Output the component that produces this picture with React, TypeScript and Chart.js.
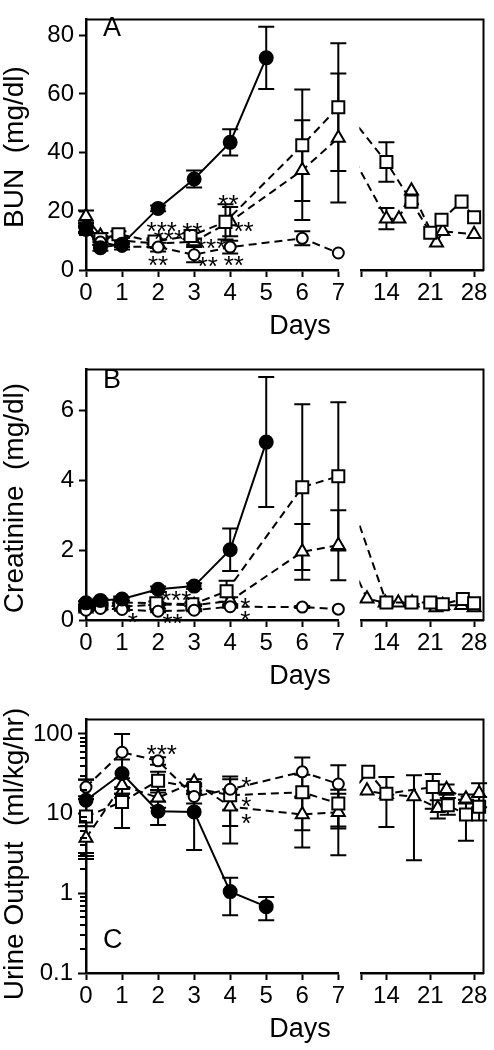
import React, { useEffect, useRef } from 'react';
import { Chart, registerables } from 'chart.js';

Chart.register(...registerables);

const FONT = '"Liberation Sans", Arial, Helvetica, sans-serif';

// ---------------- Panel A : BUN (mg/dl) ----------------
const A_FILLED_X = [0, 0.4, 1, 2, 3, 4, 5];
const A_FILLED_Y = [14.3, 7.6, 8.8, 21.0, 31.0, 43.5, 72.3];
const A_FILLED_E = [1.5, 1.0, 1.0, 1.0, 2.9, 4.5, 10.6];
const A_CIRCLE_X = [0, 0.4, 1, 2, 3, 4, 6, 7];
const A_CIRCLE_Y = [13.5, 9.5, 8.0, 7.8, 5.2, 7.8, 10.8, 5.8];
const A_CIRCLE_E = [1, 1, 1, 1.5, 2.6, 2.2, 2.4, 0];
const A_SQUARE_X = [0, 0.4, 0.9, 1.9, 2.9, 3.87, 6, 7, 14, 18, 21, 22.8, 26, 28];
const A_SQUARE_Y = [14, 10.5, 12.2, 9.7, 11.6, 16.4, 42.5, 55.5, 36.8, 23.3, 12.7, 17.1, 23.3, 18];
const A_SQUARE_E = [1, 1, 1, 1, 1, 6, 19, 21.8, 6.7, 0, 0, 0, 0, 0];
const A_TRIANGLE_X = [0, 0.4, 1, 2, 3, 4, 6, 7, 14, 16, 18, 22, 23, 28];
const A_TRIANGLE_Y = [18.3, 11.6, 10.0, 9.0, 9.7, 16.5, 34, 45, 17.5, 17.5, 27, 9.3, 13.2, 12.2];
const A_TRIANGLE_E = [2, 1, 1, 1.5, 1, 5, 17, 22, 3.6, 0, 0, 0, 0, 0];
const A_STARS_X = [2.1, 2.3, 2.0, 2.95, 3.47, 3.38, 3.95, 4.37, 4.1];
const A_STARS_Y = [15.2, 12.7, 3.8, 15, 9.5, 3.5, 24.5, 15.3, 3.7];
const A_STARS_T = ['***', '***', '**', '**', '***', '**', '**', '**', '**'];
const A_Y_TICKS = [0, 20, 40, 60, 80];

// ---------------- Panel B : Creatinine (mg/dl) ----------------
const B_FILLED_X = [0, 0.4, 1, 2, 3, 4, 5];
const B_FILLED_Y = [0.49, 0.56, 0.6, 0.88, 0.97, 2.01, 5.09];
const B_FILLED_E = [0.05, 0.05, 0.05, 0.08, 0.08, 0.61, 1.86];
const B_CIRCLE_X = [0, 0.4, 1, 2, 3, 4, 6, 7];
const B_CIRCLE_Y = [0.28, 0.33, 0.3, 0.25, 0.28, 0.38, 0.37, 0.31];
const B_CIRCLE_E = [0.03, 0.03, 0.03, 0.03, 0.03, 0.03, 0.03, 0];
const B_SQUARE_X = [0, 0.4, 0.95, 1.95, 2.95, 3.9, 6, 7, 14, 18, 21, 23, 26.2, 28];
const B_SQUARE_Y = [0.4, 0.45, 0.5, 0.48, 0.45, 0.82, 3.8, 4.11, 0.5, 0.5, 0.5, 0.45, 0.6, 0.48];
const B_SQUARE_E = [0.03, 0.03, 0.05, 0.05, 0.05, 0.3, 2.37, 2.12, 0.03, 0, 0, 0, 0, 0];
const B_TRIANGLE_X = [0, 0.4, 1, 2, 3, 4, 6, 7, 10.9, 13.8, 15.9, 18.1, 21.9, 23, 26, 28];
const B_TRIANGLE_Y = [0.32, 0.42, 0.38, 0.45, 0.42, 0.55, 1.95, 2.14, 0.61, 0.49, 0.49, 0.49, 0.36, 0.42, 0.42, 0.36];
const B_TRIANGLE_E = [0.03, 0.03, 0.03, 0.03, 0.03, 0.1, 0.8, 1.0, 0, 0, 0, 0, 0, 0, 0, 0];
const B_STARS_X = [1.3, 2.5, 2.4, 4.42, 4.42];
const B_STARS_Y = [0.13, 0.74, 0.1, 0.54, 0.16];
const B_STARS_T = ['*', '***', '**', '*', '*'];
const B_Y_TICKS = [0, 2, 4, 6];

// ---------------- Panel C : Urine Output (ml/kg/hr) ----------------
const C_FILLED_X = [0, 1, 2, 3, 4, 5];
const C_FILLED_Y = [14.7, 31.8, 10.7, 10.5, 1.05, 0.68];
const C_FILLED_E = [12, 16, 3.5, 7, 0.52, 0.22];
const C_CIRCLE_X = [0, 1, 2, 3, 4, 6, 7];
const C_CIRCLE_Y = [21.5, 58.8, 45.9, 16.4, 20.2, 33.4, 23.5];
const C_CIRCLE_E = [5, 41, 5, 3, 9, 17, 17];
const C_SQUARE_X = [0, 1, 2, 3, 4, 6, 7, 11.1, 14, 21.4, 23.8, 26.7, 28.8];
const C_SQUARE_Y = [9.2, 14, 25.9, 21, 17, 18.5, 13.4, 33.4, 17.8, 21.5, 12.7, 9.75, 12.2];
const C_SQUARE_E = [6, 7.4, 7.5, 3, 10, 12.3, 6.5, 0, 11, 10, 3, 5.2, 4];
const C_TRIANGLE_X = [0, 1, 2, 3, 4, 6, 7, 10.9, 14, 18.4, 22.2, 23.6, 26.7, 28.8];
const C_TRIANGLE_Y = [4.93, 22.7, 15.8, 25, 12.2, 9.75, 10.4, 19.3, 17.5, 16.4, 11.7, 20.2, 15.4, 18];
const C_TRIANGLE_E = [2, 5, 4, 2, 8, 6, 7.4, 0, 0, 13.8, 3, 3, 2, 6];
const C_STARS_X = [2.1, 4.45, 4.45, 4.45];
const C_STARS_Y = [66, 26.6, 14.7, 9.0];
const C_STARS_T = ['***', '*', '*', '*'];
const C_Y_LABELS = [0.1, 1, 10, 100];
const C_Y_MINOR_STEPS = [2, 3, 4, 5, 6, 7, 8, 9];

// ---------------- shared x axis ----------------
const X1_MIN = 0;
const X1_MAX = 7;
const X2_MIN = 10;
const X2_MAX = 29.5;
const X2_TICKS = [14, 21, 28];

type Kind = 'filled' | 'circle' | 'square' | 'triangle';
type Series = { kind: Kind; x: number[]; y: number[]; e: number[] };

const STYLE: Record<Kind, { pointStyle: string; r: number; bg: string; dash: number[] }> = {
  filled: { pointStyle: 'circle', r: 6.5, bg: '#000', dash: [] },
  circle: { pointStyle: 'circle', r: 5.5, bg: '#fff', dash: [8, 5] },
  square: { pointStyle: 'rect', r: 8.5, bg: '#fff', dash: [8, 5] },
  triangle: { pointStyle: 'triangle', r: 7.5, bg: '#fff', dash: [8, 5] },
};

type PanelCfg = {
  series: Series[];
  starsX: number[];
  starsY: number[];
  starsT: string[];
  log: boolean;
  yMin: number;
  yMax: number;
  yTicks: number[];
  yTitle: string;
  titleY: number;
  letter: string;
  letterY: number;
  padTop: number;
  axisH: number;
};

const PANELS: PanelCfg[] = [
  {
    series: [
      { kind: 'filled', x: A_FILLED_X, y: A_FILLED_Y, e: A_FILLED_E },
      { kind: 'circle', x: A_CIRCLE_X, y: A_CIRCLE_Y, e: A_CIRCLE_E },
      { kind: 'square', x: A_SQUARE_X, y: A_SQUARE_Y, e: A_SQUARE_E },
      { kind: 'triangle', x: A_TRIANGLE_X, y: A_TRIANGLE_Y, e: A_TRIANGLE_E },
    ],
    starsX: A_STARS_X, starsY: A_STARS_Y, starsT: A_STARS_T,
    log: false, yMin: 0, yMax: 85.4, yTicks: A_Y_TICKS,
    yTitle: 'BUN  (mg/dl)', titleY: 147, letter: 'A', letterY: 36, padTop: 1, axisH: 80,
  },
  {
    series: [
      { kind: 'filled', x: B_FILLED_X, y: B_FILLED_Y, e: B_FILLED_E },
      { kind: 'circle', x: B_CIRCLE_X, y: B_CIRCLE_Y, e: B_CIRCLE_E },
      { kind: 'square', x: B_SQUARE_X, y: B_SQUARE_Y, e: B_SQUARE_E },
      { kind: 'triangle', x: B_TRIANGLE_X, y: B_TRIANGLE_Y, e: B_TRIANGLE_E },
    ],
    starsX: B_STARS_X, starsY: B_STARS_Y, starsT: B_STARS_T,
    log: false, yMin: 0, yMax: 7.17, yTicks: B_Y_TICKS,
    yTitle: 'Creatinine  (mg/dl)', titleY: 148, letter: 'B', letterY: 38, padTop: 3, axisH: 80,
  },
  {
    series: [
      { kind: 'filled', x: C_FILLED_X, y: C_FILLED_Y, e: C_FILLED_E },
      { kind: 'circle', x: C_CIRCLE_X, y: C_CIRCLE_Y, e: C_CIRCLE_E },
      { kind: 'square', x: C_SQUARE_X, y: C_SQUARE_Y, e: C_SQUARE_E },
      { kind: 'triangle', x: C_TRIANGLE_X, y: C_TRIANGLE_Y, e: C_TRIANGLE_E },
    ],
    starsX: C_STARS_X, starsY: C_STARS_Y, starsT: C_STARS_T,
    log: true, yMin: 0.1, yMax: 152, yTicks: C_Y_LABELS,
    yTitle: 'Urine Output  (ml/kg/hr)', titleY: 154, letter: 'C', letterY: 248, padTop: 4, axisH: 77,
  },
];

const CAP = 8;

function buildDatasets(series: Series[]) {
  const out: any[] = [];
  series.forEach((s) => {
    const st = STYLE[s.kind];
    const pts = s.x.map((x, i) => ({ x, y: s.y[i], e: s.e[i] }));
    const seg1 = pts.filter((p) => p.x <= X1_MAX);
    const later = pts.filter((p) => p.x > X1_MAX);
    const common = {
      borderColor: '#000',
      borderWidth: 2,
      borderDash: st.dash,
      pointStyle: st.pointStyle,
      pointRadius: st.r,
      pointHoverRadius: st.r,
      pointBackgroundColor: st.bg,
      pointBorderColor: '#000',
      pointBorderWidth: 2,
      tension: 0,
      fill: false,
    };
    out.push({
      ...common,
      xAxisID: 'x1',
      yAxisID: 'y',
      data: seg1.map((p) => ({ x: p.x, y: p.y })),
      errors: seg1.map((p) => p.e),
      clip: { left: 14, top: 14, right: 14, bottom: 14 },
    });
    if (later.length) {
      const bridge = seg1.length ? [seg1[seg1.length - 1]] : [];
      const seg2 = [...bridge, ...later];
      out.push({
        ...common,
        xAxisID: 'x2',
        yAxisID: 'y',
        data: seg2.map((p) => ({ x: p.x, y: p.y })),
        errors: seg2.map((p, i) => (i < bridge.length ? 0 : p.e)),
        clip: { left: 2, top: 14, right: 14, bottom: 14 },
      });
    }
  });
  return out;
}

function makeChart(canvas: HTMLCanvasElement, p: PanelCfg) {
  const tickFont = { family: FONT, size: 24 };
  const grid = {
    display: true,
    drawOnChartArea: false,
    drawTicks: true,
    tickLength: 7,
    tickWidth: 2,
    tickColor: '#000',
    color: '#000',
  };
  const border = { display: true, color: '#000', width: 2.5 };
  const fitX = (s: any) => {
    s.height = p.axisH;
  };

  const yScale: any = {
    type: p.log ? 'logarithmic' : 'linear',
    position: 'left',
    min: p.yMin,
    max: p.yMax,
    afterBuildTicks: (s: any) => {
      s.ticks = p.yTicks.map((v) => ({ value: v }));
    },
    ticks: {
      autoSkip: false,
      font: tickFont,
      color: '#000',
      padding: 5,
      callback: (v: number) => String(v),
    },
    grid: p.log ? { ...grid, tickLength: 8 } : grid,
    border,
    afterFit: (s: any) => {
      s.width = 86;
    },
  };

  const overlay = {
    id: 'overlay' + p.letter,
    afterDraw(chart: any) {
      const ctx = chart.ctx;
      const a = chart.chartArea;
      ctx.save();
      ctx.strokeStyle = '#000';
      ctx.lineWidth = 2;
      ctx.setLineDash([]);
      ctx.beginPath();
      ctx.moveTo(a.left, a.top);
      ctx.lineTo(a.right, a.top);
      ctx.lineTo(a.right, a.bottom + 1);
      ctx.stroke();

      // minor ticks of the log axis
      if (p.log) {
        const ys = chart.scales.y;
        ctx.lineWidth = 2;
        ctx.beginPath();
        p.yTicks.slice(0, -1).forEach((dec) => {
          C_Y_MINOR_STEPS.forEach((m) => {
            const py = Math.round(ys.getPixelForValue(dec * m));
            ctx.moveTo(a.left - 6, py);
            ctx.lineTo(a.left + 1, py);
          });
        });
        ctx.stroke();
      }

      ctx.fillStyle = '#000';
      // panel letter
      ctx.font = `27px ${FONT}`;
      ctx.textAlign = 'left';
      ctx.textBaseline = 'alphabetic';
      ctx.fillText(p.letter, 103, p.letterY);
      // x title
      ctx.font = `27px ${FONT}`;
      ctx.textAlign = 'center';
      ctx.fillText('Days', 300, a.bottom + 64);
      // y title
      ctx.translate(23, p.titleY);
      ctx.rotate(-Math.PI / 2);
      ctx.font = `28px ${FONT}`;
      ctx.textAlign = 'center';
      ctx.fillText(p.yTitle, 0, 0);
      ctx.restore();
    },
    beforeDatasetsDraw(chart: any) {
      const ctx = chart.ctx;
      ctx.save();
      ctx.strokeStyle = '#000';
      ctx.lineWidth = 2;
      ctx.setLineDash([]);
      chart.data.datasets.forEach((ds: any, di: number) => {
        const meta = chart.getDatasetMeta(di);
        const xs = meta.xScale;
        const ys = meta.yScale;
        ds.data.forEach((pt: any, i: number) => {
          const e = ds.errors ? ds.errors[i] : 0;
          if (!e || pt.x < xs.min || pt.x > xs.max) return;
          const px = xs.getPixelForValue(pt.x);
          const top = ys.getPixelForValue(pt.y + e);
          const lowVal = pt.y - e;
          let bottom =
            ys.type === 'logarithmic' && lowVal <= 0
              ? chart.chartArea.bottom
              : ys.getPixelForValue(lowVal);
          bottom = Math.min(bottom, chart.chartArea.bottom);
          ctx.beginPath();
          ctx.moveTo(px, top);
          ctx.lineTo(px, bottom);
          ctx.moveTo(px - CAP, top);
          ctx.lineTo(px + CAP, top);
          ctx.moveTo(px - CAP, bottom);
          ctx.lineTo(px + CAP, bottom);
          ctx.stroke();
        });
      });
      ctx.restore();
    },
    afterDatasetsDraw(chart: any) {
      const ctx = chart.ctx;
      const xs = chart.scales.x1;
      const ys = chart.scales.y;
      ctx.save();
      ctx.fillStyle = '#000';
      const fs = 26;
      ctx.font = `${fs}px ${FONT}`;
      ctx.textAlign = 'center';
      ctx.textBaseline = 'alphabetic';
      p.starsX.forEach((x, i) => {
        const px = xs.getPixelForValue(x);
        const py = ys.getPixelForValue(p.starsY[i]);
        ctx.fillText(p.starsT[i], px, py + 0.58 * fs);
      });
      ctx.restore();
    },
  };

  return new Chart(canvas, {
    type: 'line',
    data: { datasets: buildDatasets(p.series) },
    options: {
      responsive: false,
      maintainAspectRatio: false,
      animation: false,
      events: [],
      layout: { padding: { top: p.padTop, right: 10, bottom: 0, left: 0 } },
      plugins: {
        legend: { display: false },
        tooltip: { enabled: false },
        title: { display: false },
      },
      scales: {
        x1: {
          type: 'linear',
          axis: 'x',
          position: 'bottom',
          stack: 'days',
          stackWeight: 252,
          min: X1_MIN,
          max: X1_MAX,
          ticks: {
            stepSize: 1,
            autoSkip: false,
            maxRotation: 0,
            font: tickFont,
            color: '#000',
            padding: 2,
          },
          grid,
          border,
          afterFit: fitX,
        },
        xgap: {
          type: 'linear',
          axis: 'x',
          position: 'bottom',
          stack: 'days',
          stackWeight: 23,
          min: 0,
          max: 1,
          ticks: { display: false },
          grid: { display: false },
          border: { display: false },
          afterFit: fitX,
        },
        x2: {
          type: 'linear',
          axis: 'x',
          position: 'bottom',
          stack: 'days',
          stackWeight: 122,
          min: X2_MIN,
          max: X2_MAX,
          afterBuildTicks: (s: any) => {
            s.ticks = [X2_MIN, ...X2_TICKS].map((v) => ({ value: v }));
          },
          ticks: {
            autoSkip: false,
            maxRotation: 0,
            font: tickFont,
            color: '#000',
            padding: 2,
            callback: (v: number) => (v === X2_MIN ? '' : String(v)),
          },
          grid,
          border,
          afterFit: fitX,
        },
        y: yScale,
      },
    } as any,
    plugins: [overlay],
  });
}

function Panel({ cfg }: { cfg: PanelCfg }) {
  const ref = useRef<HTMLCanvasElement | null>(null);
  useEffect(() => {
    if (!ref.current) return;
    const chart = makeChart(ref.current, cfg);
    return () => chart.destroy();
  }, [cfg]);
  return (
    <canvas
      ref={ref}
      width={494}
      height={350}
      style={{ display: 'block', width: 494, height: 350 }}
    />
  );
}

export default function App() {
  useEffect(() => {
    document.body.style.margin = '0';
  }, []);
  return (
    <div style={{ position: 'absolute', left: 0, top: 0, width: 494, height: 1050, background: '#fff' }}>
      {PANELS.map((p) => (
        <Panel key={p.letter} cfg={p} />
      ))}
    </div>
  );
}
